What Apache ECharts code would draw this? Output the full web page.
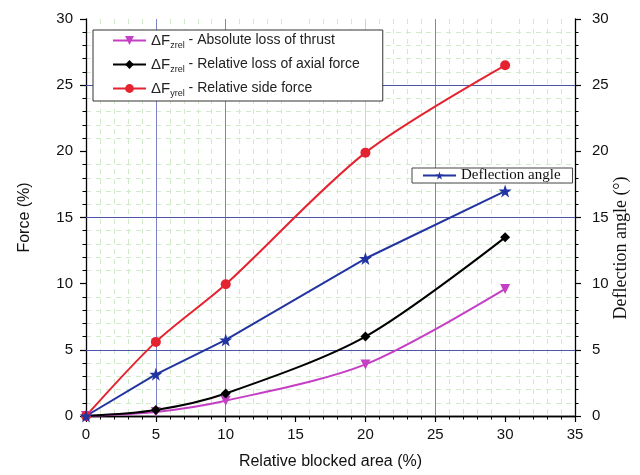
<!DOCTYPE html>
<html>
<head>
<meta charset="utf-8">
<style>
  html, body { margin: 0; padding: 0; background: #ffffff; }
  #chart { width: 640px; height: 475px; }
</style>
<script src="https://cdn.jsdelivr.net/npm/echarts@6/dist/echarts.min.js"></script>
</head>
<body>
<div id="chart"></div>
<script>
// Relative blocked area (%) at which the nozzle was tested
const blockedArea = [0, 5, 10, 20, 30];
// Force components (%), left axis
const thrustLoss = [0, 0.3, 1.15, 3.9, 9.6];
const axialLoss = [0, 0.45, 1.7, 6.0, 13.5];
const sideForce = [0, 5.6, 9.95, 19.9, 26.5];
// Jet deflection angle (degrees), right axis
const deflectionAngle = [0, 3.15, 5.75, 11.9, 17.0];

// Axis ranges and tick spacing
const xRange = [0, 35];
const yRange = [0, 30];
const tickStep = 5;

// Emphasised grid lines
const majorGridX = [5, 10, 25];
const faintGridX = [20];
const majorGridY = [5, 15, 25];

// Legend captions (rich text with subscripts)
const legendText = {
  thrust: '{d|ΔF}{s|zrel}{t| - Absolute loss of thrust}',
  axial: '{d|ΔF}{s|zrel}{t| - Relative loss of axial force}',
  side: '{d|ΔF}{s|yrel}{t| - Relative side force}'
};
const rightAxisTitle = 'Deflection angle (°)';

const pairs = (ys) => blockedArea.map((x, i) => [x, ys[i]]);

const chart = echarts.init(document.getElementById('chart'), null, { renderer: 'canvas' });

const sans = 'Liberation Sans, Arial, sans-serif';
const serif = 'Liberation Serif, Times New Roman, serif';

const valueAxisCommon = {
  type: 'value',
  interval: tickStep,
  axisLine: { show: true, onZero: false, lineStyle: { color: '#000', width: 1.3 } },
  axisTick: { show: true, inside: false, length: 6, lineStyle: { color: '#000', width: 1.2 } },
  minorTick: { show: true, splitNumber: 5, length: 3.5, lineStyle: { color: '#000', width: 1 } },
  splitLine: { show: false }
};

const minorGrid = { show: true, lineStyle: { color: '#d0eacb', width: 1, type: [5, 5] } };

const curveSmooth = 0.3;

const option = {
  backgroundColor: '#ffffff',
  animation: false,
  grid: { left: 86, right: 65, top: 19, bottom: 58 },
  legend: [
    {
      data: ['thrust', 'axial', 'side'],
      orient: 'vertical',
      left: 93,
      top: 30,
      itemWidth: 33,
      itemHeight: 11,
      itemGap: 7,
      padding: [3, 23, 3, 19],
      borderColor: '#333',
      borderWidth: 1,
      backgroundColor: '#ffffff',
      selectedMode: false,
      formatter: (name) => legendText[name],
      textStyle: {
        color: '#222',
        fontFamily: sans,
        fontSize: 14,
        rich: {
          d: { fontFamily: sans, fontSize: 15, color: '#222' },
          s: { fontFamily: sans, fontSize: 9, color: '#222', padding: [10, 0, 0, 0] },
          t: { fontFamily: sans, fontSize: 14, color: '#222' }
        }
      }
    },
    {
      data: ['Deflection angle'],
      left: 412,
      top: 168,
      itemWidth: 33,
      itemHeight: 10,
      padding: [0, 12, 0, 10],
      borderColor: '#444',
      borderWidth: 1,
      backgroundColor: '#ffffff',
      selectedMode: false,
      textStyle: { color: '#111', fontFamily: serif, fontSize: 15, lineHeight: 15 }
    }
  ],
  graphic: [
    {
      type: 'text',
      x: 621,
      y: 248,
      rotation: Math.PI / 2,
      style: {
        text: rightAxisTitle,
        fill: '#111',
        font: '18px ' + serif,
        align: 'center',
        verticalAlign: 'middle'
      }
    }
  ],
  xAxis: [
    Object.assign({}, valueAxisCommon, {
      min: xRange[0],
      max: xRange[1],
      position: 'bottom',
      name: 'Relative blocked area (%)',
      nameLocation: 'middle',
      nameGap: 38,
      nameTextStyle: { color: '#111', fontFamily: sans, fontSize: 16 },
      axisLabel: { color: '#111', fontFamily: sans, fontSize: 15, margin: 11 },
      minorSplitLine: minorGrid
    }),
    {
      type: 'value',
      min: xRange[0],
      max: xRange[1],
      position: 'top',
      axisLine: { show: true, lineStyle: { color: '#000', width: 1.3 } },
      axisTick: { show: false },
      axisLabel: { show: false },
      splitLine: { show: false }
    }
  ],
  yAxis: [
    Object.assign({}, valueAxisCommon, {
      min: yRange[0],
      max: yRange[1],
      position: 'left',
      name: 'Force (%)',
      nameLocation: 'middle',
      nameGap: 53,
      nameTextStyle: { color: '#111', fontFamily: sans, fontSize: 16 },
      axisLabel: { color: '#111', fontFamily: sans, fontSize: 15, margin: 13 },
      minorSplitLine: minorGrid
    }),
    Object.assign({}, valueAxisCommon, {
      min: yRange[0],
      max: yRange[1],
      position: 'right',
      axisLabel: { color: '#111', fontFamily: sans, fontSize: 15, margin: 17 }
    })
  ],
  series: [
    {
      name: 'thrust',
      type: 'line',
      data: pairs(thrustLoss),
      smooth: curveSmooth,
      symbol: 'triangle',
      symbolRotate: 180,
      symbolSize: 10,
      lineStyle: { color: '#c43fc4', width: 2 },
      itemStyle: { color: '#c43fc4' },
      z: 4,
      markLine: {
        silent: true,
        symbol: 'none',
        label: { show: false },
        animation: false,
        data: [
          ...majorGridX.map((v) => ({ xAxis: v, lineStyle: { color: '#7c84c6', width: 1, type: 'solid' } })),
          ...faintGridX.map((v) => ({ xAxis: v, lineStyle: { color: '#cdd0ea', width: 1, type: 'solid' } })),
          ...majorGridY.map((v) => ({ yAxis: v, lineStyle: { color: '#4c55a8', width: 1, type: 'solid' } }))
        ],
        z: 1
      }
    },
    {
      name: 'axial',
      type: 'line',
      data: pairs(axialLoss),
      smooth: curveSmooth,
      symbol: 'diamond',
      symbolSize: 10,
      lineStyle: { color: '#000000', width: 2 },
      itemStyle: { color: '#000000' },
      z: 4
    },
    {
      name: 'side',
      type: 'line',
      data: pairs(sideForce),
      smooth: curveSmooth,
      symbol: 'circle',
      symbolSize: 10,
      lineStyle: { color: '#e52330', width: 2 },
      itemStyle: { color: '#e52330' },
      z: 4
    },
    {
      name: 'Deflection angle',
      type: 'line',
      yAxisIndex: 1,
      data: pairs(deflectionAngle),
      smooth: false,
      symbol: 'path://M50,0 L61.8,35.1 L98.1,35.1 L68.8,56.7 L79.4,91 L50,70.4 L20.6,91 L31.2,56.7 L1.9,35.1 L38.2,35.1 Z',
      symbolSize: 13,
      lineStyle: { color: '#2234a0', width: 2 },
      itemStyle: { color: '#2234a0' },
      z: 4
    }
  ]
};

chart.setOption(option);
</script>
</body>
</html>
